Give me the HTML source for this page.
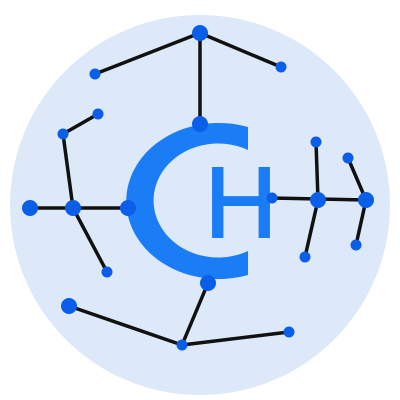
<!DOCTYPE html>
<html><head><meta charset="utf-8"><style>
html,body{margin:0;padding:0;background:#fff;width:400px;height:400px;overflow:hidden}
</style></head><body>
<svg width="400" height="400" viewBox="0 0 400 400">
<circle cx="200" cy="205" r="190" fill="#dde9f8"/>
<g stroke="#111" stroke-width="3.5" stroke-linecap="round">
<line x1="200" y1="33" x2="95" y2="74"/><line x1="200" y1="33" x2="281" y2="67"/><line x1="200" y1="33" x2="200" y2="124"/>
<line x1="98" y1="114" x2="63" y2="134"/><line x1="63" y1="134" x2="73" y2="208"/><line x1="30" y1="208" x2="128" y2="208"/>
<line x1="73" y1="208" x2="107" y2="272"/><line x1="272" y1="198" x2="366" y2="200"/><line x1="316" y1="142" x2="318" y2="200"/>
<line x1="318" y1="200" x2="305" y2="257"/><line x1="348" y1="158" x2="366" y2="200"/><line x1="366" y1="200" x2="356" y2="245"/>
<line x1="208" y1="283" x2="182" y2="345"/><line x1="69" y1="306" x2="182" y2="345"/><line x1="182" y1="345" x2="289" y2="332"/>
</g>
<path d="M248 127 A92.5 78 0 1 0 248 275 L248 251 A64.5 57 0 1 1 248 150 Z" fill="#1a7df6"/>
<text x="241" y="237" text-anchor="middle" font-family="Liberation Sans, sans-serif" font-size="100" fill="#1a7df6" stroke="#1a7df6" stroke-width="2">H</text>
<g fill="#0b5ee8">
<circle cx="200" cy="33" r="8"/><circle cx="95" cy="74" r="5.5"/><circle cx="281" cy="67" r="5.5"/><circle cx="200" cy="124" r="8"/>
<circle cx="63" cy="134" r="5.5"/><circle cx="98" cy="114" r="5.5"/><circle cx="30" cy="208" r="8"/><circle cx="73" cy="208" r="8"/>
<circle cx="128" cy="208" r="8"/><circle cx="107" cy="272" r="5.5"/><circle cx="316" cy="142" r="5.5"/><circle cx="348" cy="158" r="5.5"/>
<circle cx="272" cy="198" r="5.5"/><circle cx="318" cy="200" r="8"/><circle cx="366" cy="200" r="8"/><circle cx="305" cy="257" r="5.5"/>
<circle cx="356" cy="245" r="5.5"/><circle cx="208" cy="283" r="8"/><circle cx="69" cy="306" r="8"/><circle cx="182" cy="345" r="5.5"/>
<circle cx="289" cy="332" r="5.5"/>
</g>
</svg>
</body></html>
